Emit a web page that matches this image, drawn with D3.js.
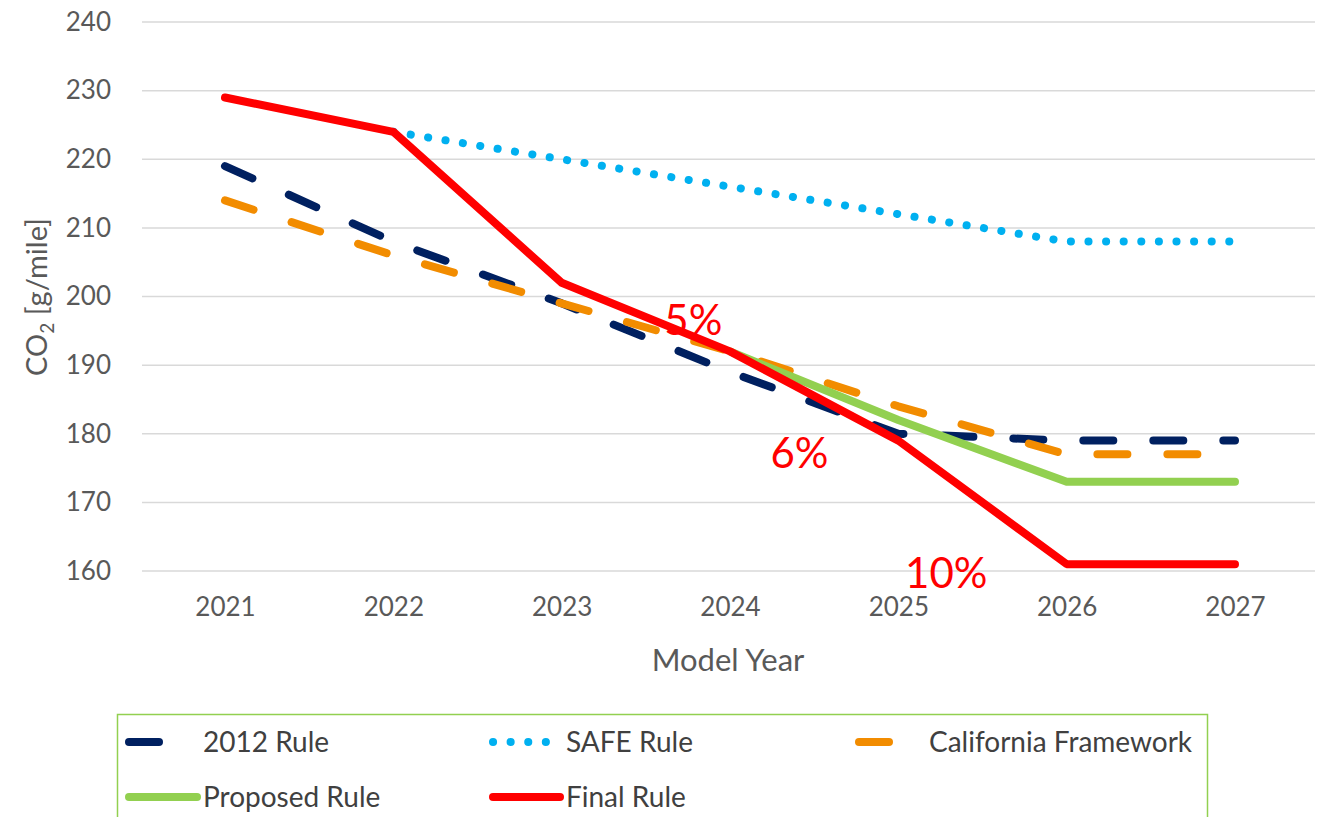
<!DOCTYPE html>
<html><head><meta charset="utf-8">
<script src="https://cdn.jsdelivr.net/npm/d3@7"></script>
<style>body{margin:0;background:#fff;}svg{display:block;font-family:Lato,"Open Sans",sans-serif;}</style>
</head><body><svg id="c" width="1323" height="817"></svg>
<script>
const years = [2021, 2022, 2023, 2024, 2025, 2026, 2027];
const yTicks = [160, 170, 180, 190, 200, 210, 220, 230, 240];
const rule2012 = [219, 208, 199, 189, 180, 179, 179];
const safeRule = [null, 224, 220, 216, 212, 208, 208];
const california = [214, 206, 199, 192, 184, 177, 177];
const proposed = [null, null, null, 192, 182, 173, 173];
const finalRule = [229, 224, 202, 192, 179, 161, 161];
const annotations = [{t:"5%", year:2023.61, v:194.4}, {t:"6%", year:2024.24, v:175.0}, {t:"10%", year:2025.04, v:157.5}];

const series = [
  {name:"2012 Rule", values:rule2012, color:"#002060", dash:"30,40", w:8},
  {name:"SAFE Rule", values:safeRule, color:"#00b0f0", dash:"0.1,17.5", w:8},
  {name:"California Framework", values:california, color:"#f28c00", dash:"30,40", w:8},
  {name:"Proposed Rule", values:proposed, color:"#92d050", dash:null, w:8},
  {name:"Final Rule", values:finalRule, color:"#ff0000", dash:null, w:8}
];

const svg = d3.select("#c");
const x = d3.scaleLinear().domain([2021, 2027]).range([225, 1235]);
const y = d3.scaleLinear().domain([160, 240]).range([571, 22]);

// gridlines
svg.append("g").selectAll("line").data(yTicks).join("line")
  .attr("x1", 142).attr("x2", 1315)
  .attr("y1", d => y(d)).attr("y2", d => y(d))
  .attr("stroke", "#d9d9d9").attr("stroke-width", 1.5);

// y tick labels
const yAxis = d3.axisLeft(y).tickValues(yTicks).tickSize(0).tickPadding(0);
const gy = svg.append("g").attr("transform", "translate(111,0)").call(yAxis);
gy.select(".domain").remove();
gy.selectAll("text").attr("font-size", 26).attr("fill", "#595959").attr("font-family", "Lato,'Open Sans',sans-serif");

// x tick labels
const xAxis = d3.axisBottom(x).tickValues(years).tickFormat(d3.format("d")).tickSize(0).tickPadding(0);
const gx = svg.append("g").attr("transform", "translate(0,598)").call(xAxis);
gx.select(".domain").remove();
gx.selectAll("text").attr("font-size", 26).attr("fill", "#595959").attr("font-family", "Lato,'Open Sans',sans-serif");

// axis titles
svg.append("text").attr("x", 728).attr("y", 671).attr("text-anchor", "middle")
  .attr("font-size", 31).attr("fill", "#595959").text("Model Year");
const yt = svg.append("text").attr("transform", "translate(47,297) rotate(-90)")
  .attr("text-anchor", "middle").attr("font-size", 29).attr("fill", "#595959");
yt.append("tspan").text("CO");
yt.append("tspan").attr("font-size", 19).attr("dy", 7).text("2");
yt.append("tspan").attr("dy", -7).text(" [g/mile]");

// lines
const line = d3.line().defined(d => d.v != null).x(d => x(d.year)).y(d => y(d.v));
series.forEach(s => {
  const pts = years.map((yr, i) => ({year: yr, v: s.values[i]}));
  svg.append("path").datum(pts).attr("d", line)
    .attr("fill", "none").attr("stroke", s.color).attr("stroke-width", s.w)
    .attr("stroke-linecap", "round").attr("stroke-linejoin", "round")
    .attr("stroke-dasharray", s.dash);
});

// annotations
svg.append("g").selectAll("text").data(annotations).join("text")
  .attr("x", d => x(d.year)).attr("y", d => y(d.v)).attr("text-anchor", "start")
  .attr("font-size", 42).attr("fill", "#ff0000").text(d => d.t);

// legend
svg.append("rect").attr("x", 117.5).attr("y", 714.5).attr("width", 1090).attr("height", 120)
  .attr("fill", "none").attr("stroke", "#92d050").attr("stroke-width", 1.5);
const legPos = [
  {lx:125, tx:203, ty:742},
  {lx:489, tx:566, ty:742},
  {lx:855, tx:929, ty:742},
  {lx:125, tx:203, ty:797},
  {lx:489, tx:566, ty:797}
];
series.forEach((s, i) => {
  const p = legPos[i];
  svg.append("line").attr("x1", p.lx + 4).attr("x2", p.tx - 6).attr("y1", p.ty).attr("y2", p.ty)
    .attr("stroke", s.color).attr("stroke-width", s.w).attr("stroke-linecap", "round")
    .attr("stroke-dasharray", s.dash);
  svg.append("text").attr("x", p.tx).attr("y", p.ty).attr("dy", "0.35em")
    .attr("font-size", 28).attr("fill", "#404040").text(s.name);
});
</script></body></html>
